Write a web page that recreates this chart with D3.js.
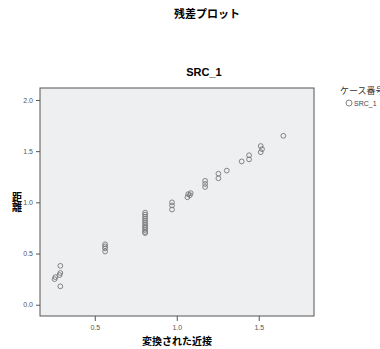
<!DOCTYPE html>
<html>
<head>
<meta charset="utf-8">
<script src="https://cdn.jsdelivr.net/npm/d3@7"></script>
<style>
  body { margin: 0; background: #fff; }
  svg { display: block; }
  .jp { font-family: "Noto Sans CJK JP", sans-serif; }
  .tick text { font-family: "Liberation Sans Narrow", "Liberation Sans", sans-serif; font-size: 7px; fill: #555; }
</style>
</head>
<body>
<div id="chart"></div>
<script>
// 変換された近接 (x) と 距離 (y)
var xVals = [0.26, 0.255, 0.29, 0.29, 0.285, 0.29,
  0.563, 0.563, 0.563, 0.563,
  0.807, 0.807, 0.807, 0.807, 0.807, 0.807, 0.807, 0.807, 0.807, 0.807, 0.807, 0.807,
  0.971, 0.971, 0.971,
  1.065, 1.07, 1.085, 1.08,
  1.173, 1.173, 1.173,
  1.254, 1.254,
  1.305,
  1.396, 1.441, 1.441,
  1.512, 1.52, 1.512,
  1.65];
var yVals = [0.27, 0.25, 0.38, 0.31, 0.29, 0.18,
  0.59, 0.57, 0.55, 0.52,
  0.90, 0.88, 0.86, 0.84, 0.82, 0.80, 0.78, 0.76, 0.75, 0.73, 0.71, 0.70,
  1.00, 0.97, 0.93,
  1.05, 1.08, 1.09, 1.07,
  1.21, 1.18, 1.15,
  1.28, 1.235,
  1.31,
  1.40, 1.46, 1.42,
  1.55, 1.52, 1.49,
  1.65];
var xTicks = [0.5, 1.0, 1.5];
var yTicks = [0.0, 0.5, 1.0, 1.5, 2.0];

(function() {

var width = 380, height = 349;
var pl = 40, pr = 314, pt = 88, pb = 316;

var svg = d3.select("#chart").append("svg")
  .attr("width", width)
  .attr("height", height);

var x = d3.scaleLinear().domain([0.166, 1.837]).range([pl, pr]);
var y = d3.scaleLinear().domain([-0.11, 2.117]).range([pb, pt]);

svg.append("rect")
  .attr("x", pl).attr("y", pt)
  .attr("width", pr - pl).attr("height", pb - pt)
  .attr("fill", "#eeeff1")
  .attr("stroke", "#555")
  .attr("stroke-width", 1);

var xAxis = svg.append("g")
  .attr("transform", "translate(0," + pb + ")")
  .call(d3.axisBottom(x).tickValues(xTicks).tickFormat(d3.format(".1f")).tickSize(5).tickSizeOuter(0));
var yAxis = svg.append("g")
  .attr("transform", "translate(" + pl + ",0)")
  .call(d3.axisLeft(y).tickValues(yTicks).tickFormat(d3.format(".1f")).tickSize(4).tickSizeOuter(0));
svg.selectAll(".domain").remove();
svg.selectAll(".tick line").attr("stroke", "#555");
xAxis.selectAll(".tick text").attr("dy", "0.9em");

svg.append("g").selectAll("circle")
  .data(xVals)
  .enter().append("circle")
  .attr("cx", function(d) { return x(d); })
  .attr("cy", function(d, i) { return y(yVals[i]); })
  .attr("r", 2.4)
  .attr("fill", "none")
  .attr("stroke", "#777")
  .attr("stroke-width", 0.9);

svg.append("text").attr("class", "jp")
  .attr("x", 207).attr("y", 18)
  .attr("text-anchor", "middle")
  .attr("font-size", 11).attr("font-weight", "bold")
  .text("残差プロット");

svg.append("text")
  .attr("x", 204).attr("y", 76)
  .attr("text-anchor", "middle")
  .attr("font-family", "Liberation Sans, sans-serif")
  .attr("font-size", 11).attr("font-weight", "bold")
  .text("SRC_1");

svg.append("text").attr("class", "jp")
  .attr("x", (pl + pr) / 2).attr("y", 345)
  .attr("text-anchor", "middle")
  .attr("font-size", 10).attr("font-weight", "bold")
  .text("変換された近接");

// 縦書きのラベル
svg.append("text").attr("class", "jp")
  .attr("x", 17).attr("y", 202)
  .attr("text-anchor", "middle")
  .style("writing-mode", "vertical-rl")
  .attr("font-size", 10).attr("font-weight", "bold")
  .text("距離");

// 凡例
svg.append("text").attr("class", "jp")
  .attr("x", 340).attr("y", 94)
  .attr("font-size", 9).attr("fill", "#333")
  .text("ケース番号");
svg.append("circle")
  .attr("cx", 349).attr("cy", 103).attr("r", 3)
  .attr("fill", "none").attr("stroke", "#777").attr("stroke-width", 0.9);
svg.append("text")
  .attr("x", 354).attr("y", 105.5)
  .attr("font-family", "Liberation Sans Narrow, Liberation Sans, sans-serif")
  .attr("font-size", 7).attr("fill", "#444")
  .text("SRC_1");

})();
</script>
</body>
</html>
